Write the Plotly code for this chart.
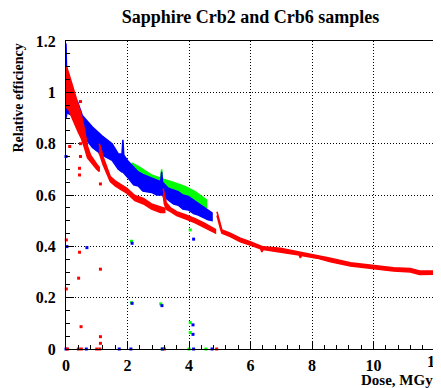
import plotly.graph_objects as go

# ---------------- data ----------------
# Red sample: several irradiation runs, lower / upper edge of the point cloud
red1_dose = [0.0, 0.02, 0.1, 0.2, 0.3, 0.4, 0.5, 0.6, 0.7, 0.8, 0.9, 1.0, 1.08]
red1_lo = [0.95, 0.94, 0.93, 0.90, 0.87, 0.845, 0.82, 0.785, 0.745, 0.73, 0.715, 0.70, 0.692]
red1_hi = [1.10, 1.10, 1.07, 1.03, 0.98, 0.945, 0.91, 0.855, 0.79, 0.755, 0.735, 0.72, 0.708]

red2_dose = [1.07, 1.12, 1.2, 1.3, 1.44, 1.6, 1.8, 1.98, 2.24, 2.52, 2.78, 3.07, 3.21]
red2_lo = [0.765, 0.75, 0.72, 0.69, 0.652, 0.635, 0.62, 0.607, 0.578, 0.565, 0.545, 0.532, 0.532]
red2_hi = [0.80, 0.79, 0.75, 0.715, 0.672, 0.655, 0.64, 0.626, 0.598, 0.587, 0.565, 0.555, 0.548]

red3_dose = [3.16, 3.2, 3.26, 3.4, 3.6, 3.9, 4.2, 4.5, 4.86]
red3_lo = [0.60, 0.565, 0.545, 0.535, 0.52, 0.506, 0.492, 0.475, 0.452]
red3_hi = [0.625, 0.60, 0.57, 0.55, 0.535, 0.522, 0.508, 0.49, 0.466]

red4_dose = [4.91, 4.96, 5.02, 5.07, 5.34, 5.67, 5.99, 6.33, 6.37, 6.41, 6.97,
             7.58, 7.62, 7.66, 8.16, 8.6, 9.25, 10.0, 10.65, 11.2, 11.5, 11.95]
red4_lo = [0.52, 0.495, 0.47, 0.451, 0.438, 0.418, 0.405, 0.39, 0.378, 0.388, 0.379,
           0.366, 0.355, 0.364, 0.354, 0.340, 0.323, 0.312, 0.304, 0.300, 0.290, 0.291]
red4_hi = [0.535, 0.51, 0.485, 0.464, 0.451, 0.432, 0.418, 0.40, 0.399, 0.398, 0.393,
           0.379, 0.379, 0.378, 0.366, 0.354, 0.336, 0.326, 0.317, 0.314, 0.304, 0.304]

# Blue sample
blue_dose = [0.0, 0.03, 0.2, 0.37, 0.53, 0.86, 1.18, 1.5, 1.7, 1.82, 1.85, 1.88,
             2.03, 2.2, 2.35, 2.5, 2.78, 2.95, 3.08, 3.11, 3.14, 3.33, 3.5, 3.65, 3.8,
             3.98, 4.15, 4.30, 4.62, 4.75]
blue_lo = [0.90, 0.92, 0.91, 0.885, 0.835, 0.785, 0.755, 0.735, 0.70, 0.69, 0.69, 0.69,
           0.665, 0.640, 0.635, 0.615, 0.61, 0.600, 0.60, 0.60, 0.60, 0.58, 0.565, 0.56, 0.545,
           0.542, 0.528, 0.522, 0.503, 0.50]
blue_hi = [1.19, 1.03, 0.99, 0.965, 0.91, 0.865, 0.83, 0.80, 0.76, 0.76, 0.815, 0.755,
           0.73, 0.71, 0.69, 0.68, 0.665, 0.658, 0.652, 0.69, 0.65, 0.626, 0.62, 0.613, 0.60,
           0.594, 0.58, 0.568, 0.542, 0.53]

# Green sample
green_dose = [2.13, 2.35, 2.78, 3.08, 3.11, 3.14, 3.43, 3.87, 4.2, 4.57]
green_lo = [0.700, 0.675, 0.645, 0.63, 0.63, 0.63, 0.615, 0.595, 0.575, 0.548]
green_hi = [0.725, 0.711, 0.678, 0.665, 0.70, 0.662, 0.652, 0.633, 0.613, 0.581]

# Isolated points
red_out_x = [0.47, 0.45, 0.12, 0.47, 0.47, 0.44, 0.44, 1.12, 0.01, 0.44, 1.12, 0.41, 0.01,
             0.49, 1.12, 1.12, 0.05, 0.4, 0.5, 1.0, 1.1, 3.2, 4.9, 12.0]
red_out_y = [0.964, 0.925, 0.789, 0.80, 0.75, 0.704, 0.678, 0.643, 0.425, 0.377, 0.311, 0.276,
             0.234, 0.087, 0.048, 0.022, 0, 0, 0, 0, 0, 0, 0, 0]
blue_out_x = [0.0, 0.03, 0.68, 2.15, 2.15, 3.12, 4.13, 4.13, 4.15,
              0.0, 0.66, 1.73, 2.11, 3.13, 4.15, 4.75]
blue_out_y = [0.75, 0.399, 0.395, 0.412, 0.178, 0.169, 0.094, 0.057, 0.428,
              0, 0, 0, 0, 0, 0, 0]
green_out_x = [2.13, 2.13, 3.08, 4.04, 4.04, 4.04, 3.13, 4.0, 4.55]
green_out_y = [0.42, 0.18, 0.176, 0.103, 0.064, 0.464, 0, 0, 0]

x_ticks = [0, 2, 4, 6, 8, 10, 12]
x_tick_text = ["0", "2", "4", "6", "8", "10", ""]   # "12" is drawn below, clipped at the edge
y_ticks = [0, 0.2, 0.4, 0.6, 0.8, 1.0, 1.2]
y_tick_text = ["0", "0.2", "0.4", "0.6", "0.8", "1", "1.2"]

RED, BLUE, GREEN = "#ff0000", "#0000ff", "#00ff00"
SERIF = "Liberation Serif, Times New Roman, DejaVu Serif, serif"

# the page body adds an 8px offset; the figure is sized to fill the rest
W, H = 433, 380

fig = go.Figure()


def band(dose, lo, hi, color):
    fig.add_trace(go.Scatter(
        x=list(dose) + list(dose[::-1]),
        y=list(hi) + list(lo[::-1]),
        mode="lines", fill="toself", fillcolor=color,
        line=dict(color=color, width=1.5),
        hoverinfo="skip", showlegend=False))


def points(x, y, color):
    fig.add_trace(go.Scatter(
        x=x, y=y, mode="markers",
        marker=dict(symbol="square", size=3, color=color, line=dict(width=0)),
        showlegend=False, cliponaxis=False))


band(green_dose, green_lo, green_hi, GREEN)
points(green_out_x, green_out_y, GREEN)
band(blue_dose, blue_lo, blue_hi, BLUE)
points(blue_out_x, blue_out_y, BLUE)
band(red1_dose, red1_lo, red1_hi, RED)
band(red2_dose, red2_lo, red2_hi, RED)
band(red3_dose, red3_lo, red3_hi, RED)
band(red4_dose, red4_lo, red4_hi, RED)
points(red_out_x, red_out_y, RED)

tickfont = dict(family=SERIF, size=16, color="black", weight="bold")

fig.update_layout(
    width=W, height=H,
    margin=dict(l=58, r=6, t=33, b=39, autoexpand=False),
    paper_bgcolor="white", plot_bgcolor="white",
    title=dict(text="Sapphire Crb2 and Crb6 samples",
               font=dict(family=SERIF, size=18, color="black", weight="bold"),
               x=(58 + 427) / 2 / W, xanchor="center",
               y=1 - 8.5 / H, yanchor="middle"),
    xaxis=dict(range=[0, 12], tickvals=x_ticks, ticktext=x_tick_text, ticks="inside", ticklen=8,
               tickcolor="black", tickwidth=1, automargin=False,
               minor=dict(dtick=0.4, ticks="inside", ticklen=4, tickcolor="black", showgrid=False),
               showgrid=True, gridcolor="black", griddash="1px,2px", gridwidth=1,
               showline=True, linecolor="black", linewidth=1, mirror=True,
               zeroline=False, tickfont=tickfont, ticklabelstandoff=2),
    yaxis=dict(range=[0, 1.2], tickvals=y_ticks, ticktext=y_tick_text, ticks="inside",
               ticklen=8, tickcolor="black", tickwidth=1, automargin=False,
               minor=dict(dtick=0.05, ticks="inside", ticklen=4, tickcolor="black", showgrid=False),
               showgrid=True, gridcolor="black", griddash="1px,2px", gridwidth=1,
               showline=True, linecolor="black", linewidth=1, mirror=True,
               zeroline=False, tickfont=tickfont, ticklabelstandoff=6),
    annotations=[
        dict(text="12", xref="x", yref="paper", x=x_ticks[-1], y=0,
             xanchor="center", yanchor="top", yshift=-2, showarrow=False,
             font=tickfont),
        dict(text="Relative efficiency", textangle=-90, xref="paper", yref="paper",
             x=0, y=1, xanchor="center", yanchor="top", xshift=-48, yshift=-1,
             showarrow=False, font=dict(family=SERIF, size=14, color="black", weight="bold")),
        dict(text="Dose, MGy", xref="paper", yref="paper", x=1, y=0,
             xanchor="right", yanchor="top", yshift=-21, showarrow=False,
             font=dict(family=SERIF, size=15, color="black", weight="bold")),
    ],
)

fig.write_html("out.html")
